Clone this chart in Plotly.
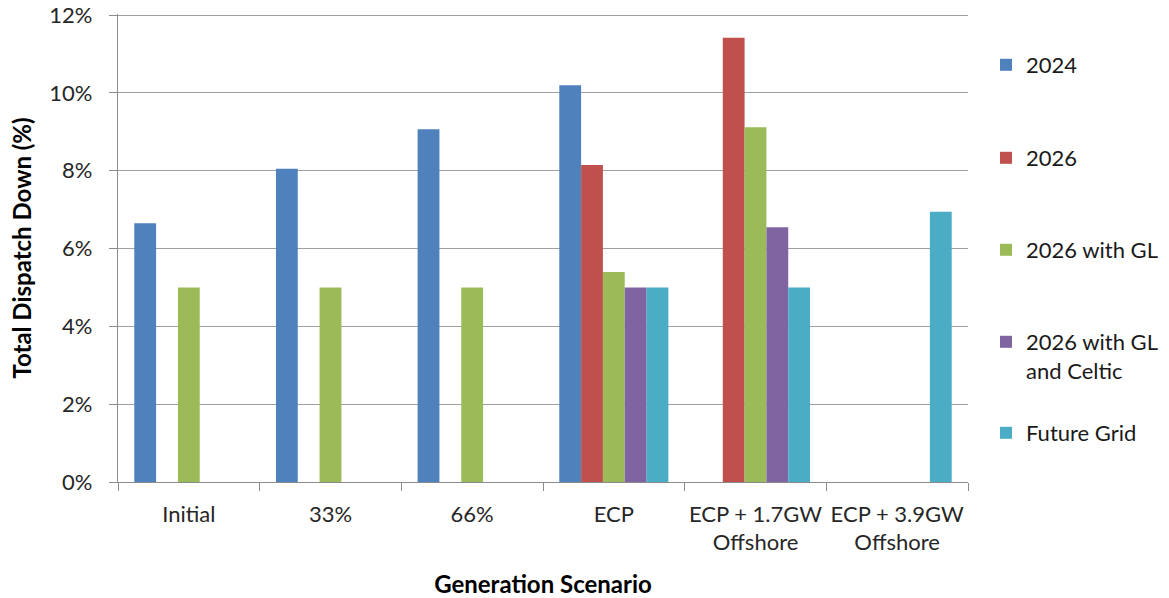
import plotly.graph_objects as go

categories = ["Initial", "33%", "66%", "ECP", "ECP + 1.7GW<br>Offshore", "ECP + 3.9GW<br>Offshore"]
series_names = ["2024", "2026", "2026 with GL", "2026 with GL<br>and Celtic", "Future Grid"]
v2024 = [6.65, 8.05, 9.07, 10.2, None, None]
v2026 = [None, None, None, 8.15, 11.42, None]
v2026_gl = [5.0, 5.0, 5.0, 5.4, 9.12, None]
v2026_gl_celtic = [None, None, None, 5.0, 6.55, None]
v_future = [None, None, None, 5.0, 5.0, 6.95]
colors = ["#4F81BD", "#C0504D", "#9BBB59", "#8064A2", "#4BACC6"]

values = [v2024, v2026, v2026_gl, v2026_gl_celtic, v_future]

FONT = "Lato"
W, H = 1169, 598
L, R, T, B = 118, 201, 14, 116
pw, ph = W - L - R, H - T - B
YMAX = 0.1203  # a hair above 12% so the top gridline is drawn

fig = go.Figure()
legend_ids = ["legend", "legend2", "legend3", "legend4", "legend5"]
legend_y = [65, 158, 250, 342, 433]
for name, vals, col, lid in zip(series_names, values, colors, legend_ids):
    fig.add_trace(go.Bar(
        x=categories, y=[None if v is None else v / 100 for v in vals],
        name=name, marker=dict(color=col, line=dict(width=0)),
        legend=lid, showlegend=True,
    ))

layout_legends = {}
for lid, ly in zip(legend_ids, legend_y):
    layout_legends[lid] = dict(
        font=dict(family=FONT, size=22, color="#1a1a1a"),
        bgcolor="rgba(0,0,0,0)", xanchor="left", yanchor="top",
        valign="top", itemsizing="constant",
        x=(986 - L) / pw, y=(H - B - (ly - 21)) / ph,
    )

fig.update_layout(
    width=W, height=H,
    margin=dict(l=L, r=R, t=T, b=B, autoexpand=False),
    barmode="group", bargap=0.23, bargroupgap=0,
    plot_bgcolor="white", paper_bgcolor="white",
    font=dict(family=FONT, size=22, color="#262626"),
    showlegend=True,
    **layout_legends,
)
fig.update_yaxes(
    range=[0, YMAX], tickvals=[0, 0.02, 0.04, 0.06, 0.08, 0.10, 0.12],
    tickformat=".0%", showgrid=True, gridcolor="#A0A0A0", gridwidth=1.3,
    showline=True, linecolor="#8C8C8C", linewidth=1.3,
    ticks="outside", ticklen=8, tickcolor="#8C8C8C",
    tickfont=dict(family=FONT, size=22, color="#262626"),
    ticklabelstandoff=12, ticklabeloverflow="allow",
    title=dict(text="<b>Total Dispatch Down (%)</b>", font=dict(family=FONT, size=24, color="#000000"), standoff=10),
    zeroline=False, automargin=False,
)
fig.update_xaxes(
    showline=True, linecolor="#8C8C8C", linewidth=1.3,
    ticks="outside", ticklen=8, tickcolor="#8C8C8C", tickson="boundaries",
    tickangle=0,
    tickfont=dict(family=FONT, size=22, color="#262626"),
    ticklabelstandoff=12,
    title=dict(text="<b>Generation Scenario</b>", font=dict(family=FONT, size=24, color="#000000"), standoff=22),
    automargin=False,
)
fig.write_html("out.html", config={"displayModeBar": False},
               post_script="document.body.style.margin='0px';")
